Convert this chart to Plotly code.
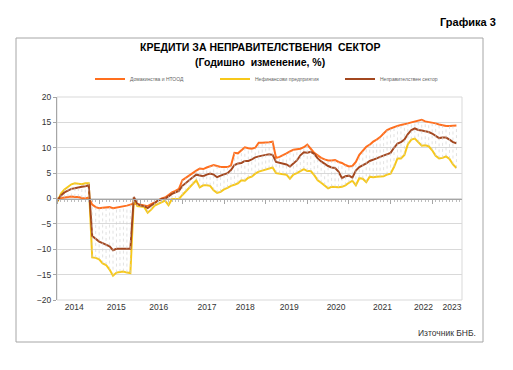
import plotly.graph_objects as go

# ---------------- data (annual change, %) ----------------
MONTHS = [f"{2014 + k // 12}-{k % 12 + 1:02d}" for k in range(116)]  # Jan 2014 .. Aug 2023

HOUSEHOLDS = [
    0.0, 0.1, 0.2, 0.3, 0.4, 0.3, 0.3, 0.1, 0.0, 0.2, -1.2, -1.7,
    -1.9, -1.8, -1.7, -1.7, -1.9, -1.8, -1.7, -1.5, -1.4, -1.2, -1.0, -1.1,
    -1.2, -1.3, -1.5, -1.1, -0.8, -0.4, 0.0, 0.2, 0.7, 1.2, 1.5, 1.9,
    3.6, 4.1, 4.5, 5.0, 5.5, 5.9, 5.8, 6.1, 6.4, 6.6, 6.4, 6.2,
    6.2, 6.2, 6.5, 9.0, 8.9, 9.6, 10.1, 9.9, 9.8, 10.0, 11.0, 11.0,
    11.0, 11.1, 11.2, 8.0, 8.2, 8.5, 8.9, 9.3, 9.6, 9.7, 9.8, 10.1,
    10.6, 9.8, 9.0, 8.5, 8.0, 7.7, 7.5, 7.5, 7.6, 7.2, 7.0, 6.6,
    6.3, 6.4, 7.2, 8.6, 9.4, 10.2, 10.6, 11.2, 11.6, 12.1, 12.8, 13.5,
    13.8, 14.1, 14.3, 14.5, 14.6, 14.8, 15.0, 15.2, 15.3, 15.5, 15.2, 15.1,
    15.0, 14.8, 14.6, 14.4, 14.3, 14.3, 14.3, 14.4,
]

NONFIN_CORP = [
    -0.6, 1.0, 1.8, 2.3, 2.8, 3.0, 2.9, 2.8, 3.0, 3.0, -11.6, -11.7,
    -12.0, -12.8, -13.1, -14.0, -15.2, -14.6, -14.5, -14.4, -14.6, -14.7, 0.0, -1.5,
    -1.6, -1.7, -2.8, -2.2, -1.4, -1.1, -0.8, -0.4, -1.3, -0.1, -0.1, -0.1,
    0.7, 1.4, 2.0, 2.8, 3.6, 2.2, 2.6, 2.6, 2.5, 1.6, 1.1, 1.3,
    1.8, 2.1, 2.5, 2.7, 3.0, 3.6, 3.5, 4.1, 4.3, 4.9, 5.3, 5.5,
    5.7, 5.9, 6.1, 5.0, 4.9, 4.8, 4.7, 3.9, 4.7, 5.0, 5.4, 5.8,
    5.4, 5.4, 4.6, 3.6, 3.1, 2.6, 2.0, 2.3, 2.2, 2.2, 2.3, 2.6,
    3.1, 3.5, 2.6, 4.0, 3.9, 3.2, 4.3, 4.2, 4.3, 4.3, 4.4, 4.7,
    4.9, 6.2, 7.9, 7.9, 8.6, 10.7, 11.6, 11.8, 11.0, 10.4, 10.5, 10.3,
    9.5, 8.4, 7.9, 8.0, 8.3, 7.8, 6.7, 6.0,
]

NONGOV_SECTOR = [
    -0.4, 0.6, 1.2, 1.6, 1.9, 2.0, 2.2, 2.3, 2.4, 2.6, -7.4, -7.9,
    -8.5, -8.8, -9.1, -9.4, -10.2, -9.9, -9.9, -9.9, -9.9, -9.9, 0.3, -1.1,
    -1.4, -1.5, -1.9, -1.4, -1.0, -0.4, -0.1, 0.0, 0.4, 0.9, 1.2, 1.5,
    2.5, 3.1, 3.6, 4.2, 4.7, 4.6, 4.4, 4.7, 4.9, 4.7, 4.2, 4.5,
    4.8, 5.0, 5.6, 6.6, 6.9, 7.0, 7.4, 7.4, 7.7, 8.1, 8.3, 8.5,
    8.6, 8.7, 8.6, 7.2, 7.0, 6.9, 6.7, 6.3, 7.0, 7.5, 8.5, 9.1,
    9.0, 9.2, 8.8, 7.9, 7.3, 6.8, 6.4, 6.1, 6.0, 5.3, 4.0, 4.4,
    4.5, 4.1, 5.5, 6.2, 6.5, 6.9, 7.4, 7.6, 7.9, 8.2, 8.5, 8.7,
    9.0, 10.0, 10.8, 11.1, 11.6, 12.7, 13.5, 13.8, 13.5, 13.4, 13.3, 13.1,
    12.8, 12.3, 11.9, 12.0, 12.0, 11.6, 11.1, 10.9,
]

SERIES_NAMES = ["Домакинства и НТООД", "Нефинансови предприятия", "Неправителствен сектор"]
YEAR_LABELS = ["2014", "2015", "2016", "2017", "2018", "2019", "2020", "2021", "2022", "2023"]

# ---------------- layout config ----------------
YEAR_LABEL_POS = [4.8, 16.9, 29.2, 43.1, 54.1, 66.8, 80.3, 93.7, 105.5, 113.7]
X_RANGE = [-0.15, 116.6]
COLORS = ["#FF6F1E", "#F7C81A", "#A3471F"]
FONT = "Liberation Sans, Arial, sans-serif"
PAGE_MARGIN = 8  # browser body margin around the figure

x = list(range(len(MONTHS)))

# high-low connector lines (Excel style)
hx, hy = [], []
for i in x:
    vals = [HOUSEHOLDS[i], NONFIN_CORP[i], NONGOV_SECTOR[i]]
    hx += [i, i, None]
    hy += [min(vals), max(vals), None]

fig = go.Figure()
fig.add_trace(go.Scatter(x=hx, y=hy, mode="lines", xaxis="x2",
                         line=dict(color="#cfcfcf", width=0.6, dash="dot"),
                         showlegend=False, hoverinfo="skip"))
for name, vals, col in zip(SERIES_NAMES, [HOUSEHOLDS, NONFIN_CORP, NONGOV_SECTOR], COLORS):
    fig.add_trace(go.Scatter(x=x, y=vals, mode="lines", name=name,
                             line=dict(color=col, width=2), customdata=MONTHS,
                             hovertemplate="%{customdata}: %{y}<extra></extra>"))

# target screen coordinates -> paper coords (plot area 57..462 x 97..300 on screen)
def px_x(p):
    return (p - 57) / 405

def px_y(p):
    return (300 - p) / 203

fig.update_layout(
    width=513 - PAGE_MARGIN, height=370 - PAGE_MARGIN,
    margin=dict(l=57 - PAGE_MARGIN, r=513 - 462, t=97 - PAGE_MARGIN, b=370 - 300),
    paper_bgcolor="white", plot_bgcolor="white",
    font=dict(family=FONT, color="#333333"),
    showlegend=True,
    legend=dict(orientation="h", x=px_x(90), y=px_y(79), xanchor="left", yanchor="middle",
                font=dict(size=5, color="#666666"), entrywidth=80, itemwidth=30,
                bgcolor="rgba(0,0,0,0)", tracegroupgap=0),
    xaxis=dict(range=X_RANGE, tickmode="array", tickvals=YEAR_LABEL_POS, ticktext=YEAR_LABELS,
               ticks="", showgrid=False, showline=False, zeroline=False,
               tickfont=dict(size=8.5, color="#333333")),
    xaxis2=dict(range=X_RANGE, overlaying="x", anchor="free", position=0.5,
                showline=True, linecolor="#a6a6a6", linewidth=1,
                ticks="outside", ticklen=4, tickcolor="#a6a6a6", tickwidth=1,
                tickmode="linear", tick0=0, dtick=12,
                minor=dict(ticks="outside", ticklen=2.5, tick0=0, dtick=1, tickcolor="#bdbdbd", showgrid=False),
                showticklabels=False, showgrid=False, zeroline=False),
    yaxis=dict(range=[-20, 20], tickmode="linear", tick0=0, dtick=5,
               showgrid=True, gridcolor="#d9d9d9", gridwidth=1,
               showline=True, linecolor="#a6a6a6", ticks="outside", ticklen=3, tickcolor="#a6a6a6",
               zeroline=False, tickfont=dict(size=8.5, color="#333333")),
    shapes=[
        dict(type="rect", xref="paper", yref="paper", x0=0, x1=1, y0=0, y1=1,
             line=dict(color="#d9d9d9", width=1), layer="below"),
        dict(type="rect", xref="paper", yref="paper", x0=px_x(16), x1=px_x(483),
             y0=px_y(342), y1=px_y(38), line=dict(color="#a6a6a6", width=1)),
    ],
    annotations=[
        dict(text="<b>Графика 3</b>", xref="paper", yref="paper", x=px_x(498), y=px_y(22),
             xanchor="right", yanchor="middle", showarrow=False, font=dict(size=11, color="#000000")),
        dict(text="<b>КРЕДИТИ ЗА НЕПРАВИТЕЛСТВЕНИЯ  СЕКТОР</b>", xref="paper", yref="paper",
             x=px_x(260), y=px_y(47), xanchor="center", yanchor="middle", showarrow=False,
             font=dict(size=10.5, color="#000000")),
        dict(text="<b>(Годишно  изменение, %)</b>", xref="paper", yref="paper",
             x=px_x(260), y=px_y(62), xanchor="center", yanchor="middle", showarrow=False,
             font=dict(size=10.5, color="#000000")),
        dict(text="Източник БНБ.", xref="paper", yref="paper", x=px_x(478), y=px_y(333),
             xanchor="right", yanchor="middle", showarrow=False, font=dict(size=8.5, color="#333333")),
    ],
)

fig.write_html("out.html")
